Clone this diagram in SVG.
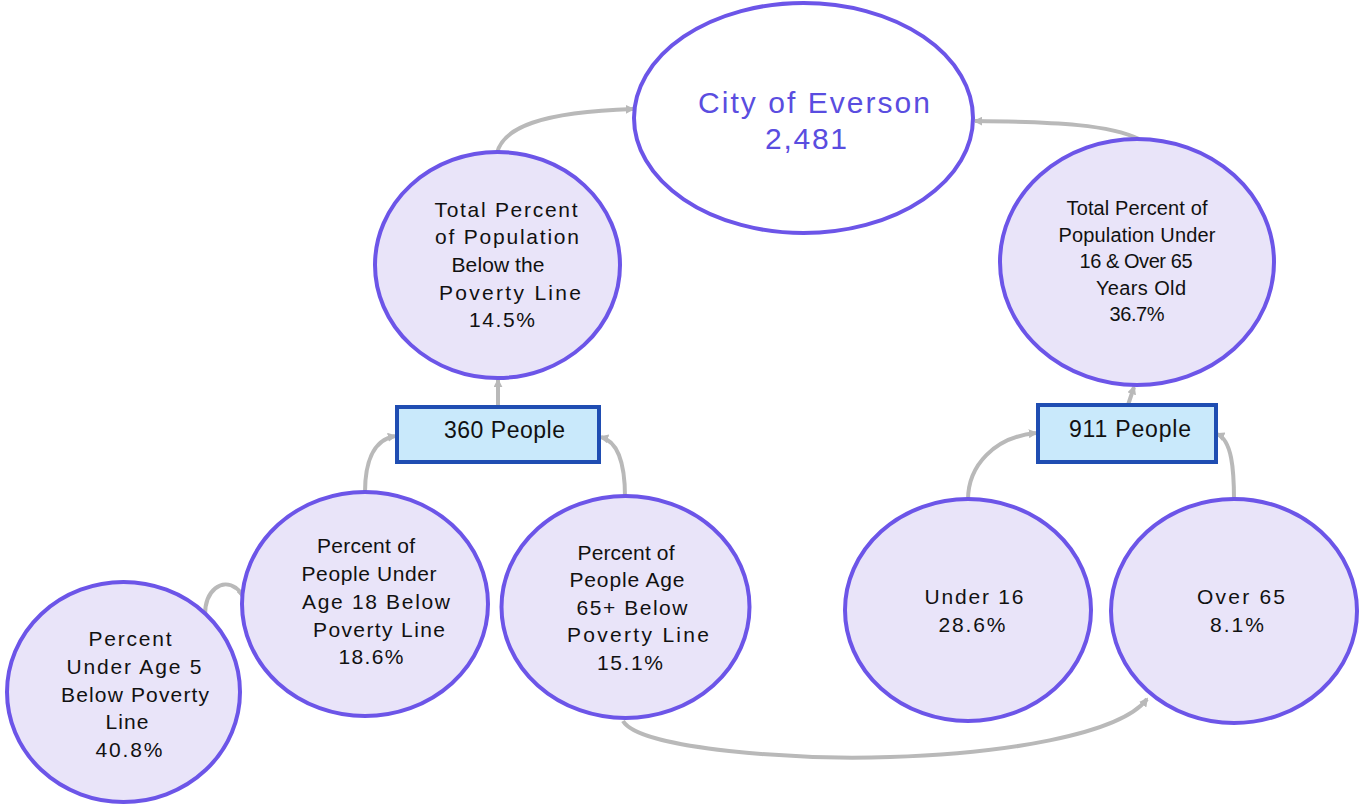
<svg xmlns="http://www.w3.org/2000/svg" width="1360" height="805" viewBox="0 0 1360 805">
<defs>
<style>
.c{fill:#e9e4f9;stroke:#6c55e8;stroke-width:4}
.top{fill:#ffffff;stroke:#6c55e8;stroke-width:4}
.r{fill:#c9e9fb;stroke:#1f4db2;stroke-width:4}
.t{font-family:"Liberation Sans",Arial,sans-serif;font-size:21px;fill:#111;text-anchor:middle}
.ts{font-family:"Liberation Sans",Arial,sans-serif;font-size:20px;fill:#111;text-anchor:middle}
.tb{font-family:"Liberation Sans",Arial,sans-serif;font-size:23px;fill:#111;text-anchor:middle}
.tc{font-family:"Liberation Sans",Arial,sans-serif;font-size:30px;fill:#5a4de0;text-anchor:middle}
.e{fill:none;stroke:#b9b9b9;stroke-width:4;marker-end:url(#a)}
</style>
<marker id="a" viewBox="0 0 10 10" refX="8" refY="5" markerWidth="9" markerHeight="9" markerUnits="userSpaceOnUse" orient="auto">
<path d="M0,0 L10,5 L0,10 z" fill="#b9b9b9"/>
</marker>
</defs>
<g id="connectors">
<path class="e" d="M497,153 C503,128 540,112 633,109"/>
<path class="e" d="M1139,139 C1110,125 1060,122 975,121"/>
<path class="e" d="M498,407 L498,380"/>
<path class="e" d="M1128,405 L1134,387"/>
<path class="e" d="M365,492 C365,465 372,440 395,436"/>
<path class="e" d="M625,497 C625,470 620,442 601,437"/>
<path class="e" d="M968,500 C968,465 995,437 1036,433"/>
<path class="e" d="M1234,500 C1234,470 1232,440 1217,434"/>
<path class="e" d="M205,615 C205,590 222,578 236,588 C240,591 242,594 243,597"/>
<path class="e" d="M623,721 C640,750 800,760 890,757 C1000,754 1120,735 1147,699"/>
</g>
<g id="city">
<ellipse class="top" cx="803.5" cy="118" rx="169.5" ry="115"/>
<text class="tc" x="814" y="113" textLength="232">City of Everson</text>
<text class="tc" x="806" y="149" textLength="82">2,481</text>
</g>
<g id="poverty-total">
<ellipse class="c" cx="497.5" cy="265" rx="122.5" ry="113"/>
<text class="t" x="506" y="217" textLength="143">Total Percent</text>
<text class="t" x="507" y="244" textLength="144">of Population</text>
<text class="t" x="498" y="272" textLength="93">Below the</text>
<text class="t" x="510" y="300" textLength="142">Poverty Line</text>
<text class="t" x="502" y="327" textLength="66">14.5%</text>
</g>
<g id="people-360">
<rect class="r" x="397" y="407" width="202" height="55"/>
<text class="tb" x="504.5" y="438" textLength="121">360 People</text>
</g>
<g id="under-18">
<ellipse class="c" cx="365" cy="604" rx="123" ry="112"/>
<text class="t" x="366" y="553" textLength="98">Percent of</text>
<text class="t" x="369" y="581" textLength="135">People Under</text>
<text class="t" x="376" y="609" textLength="148">Age 18 Below</text>
<text class="t" x="379" y="637" textLength="132">Poverty Line</text>
<text class="t" x="371" y="664" textLength="65">18.6%</text>
</g>
<g id="age-65-plus">
<ellipse class="c" cx="625.5" cy="607" rx="124" ry="111"/>
<text class="t" x="626" y="560" textLength="97">Percent of</text>
<text class="t" x="627" y="587" textLength="115">People Age</text>
<text class="t" x="632" y="615" textLength="111">65+ Below</text>
<text class="t" x="638" y="642" textLength="142">Poverty Line</text>
<text class="t" x="630" y="670" textLength="66">15.1%</text>
</g>
<g id="under-5">
<ellipse class="c" cx="123.5" cy="692" rx="116.5" ry="110"/>
<text class="t" x="130" y="646" textLength="83">Percent</text>
<text class="t" x="134" y="674" textLength="135">Under Age 5</text>
<text class="t" x="135" y="702" textLength="148">Below Poverty</text>
<text class="t" x="127" y="729" textLength="43">Line</text>
<text class="t" x="129" y="757" textLength="67">40.8%</text>
</g>
<g id="under16-over65-total">
<ellipse class="c" cx="1137" cy="262" rx="137" ry="123"/>
<text class="ts" x="1137" y="215" textLength="141">Total Percent of</text>
<text class="ts" x="1137" y="242" textLength="157">Population Under</text>
<text class="ts" x="1136" y="268" textLength="113">16 &amp; Over 65</text>
<text class="ts" x="1141" y="295" textLength="90">Years Old</text>
<text class="ts" x="1137" y="321" textLength="55">36.7%</text>
</g>
<g id="people-911">
<rect class="r" x="1038" y="405" width="178" height="57"/>
<text class="tb" x="1130" y="437" textLength="122">911 People</text>
</g>
<g id="under-16">
<ellipse class="c" cx="968" cy="610" rx="123" ry="111"/>
<text class="t" x="974" y="604" textLength="99">Under 16</text>
<text class="t" x="972" y="632" textLength="67">28.6%</text>
</g>
<g id="over-65">
<ellipse class="c" cx="1234" cy="611" rx="123" ry="112"/>
<text class="t" x="1241" y="604" textLength="88">Over 65</text>
<text class="t" x="1237" y="632" textLength="54">8.1%</text>
</g>
</svg>
